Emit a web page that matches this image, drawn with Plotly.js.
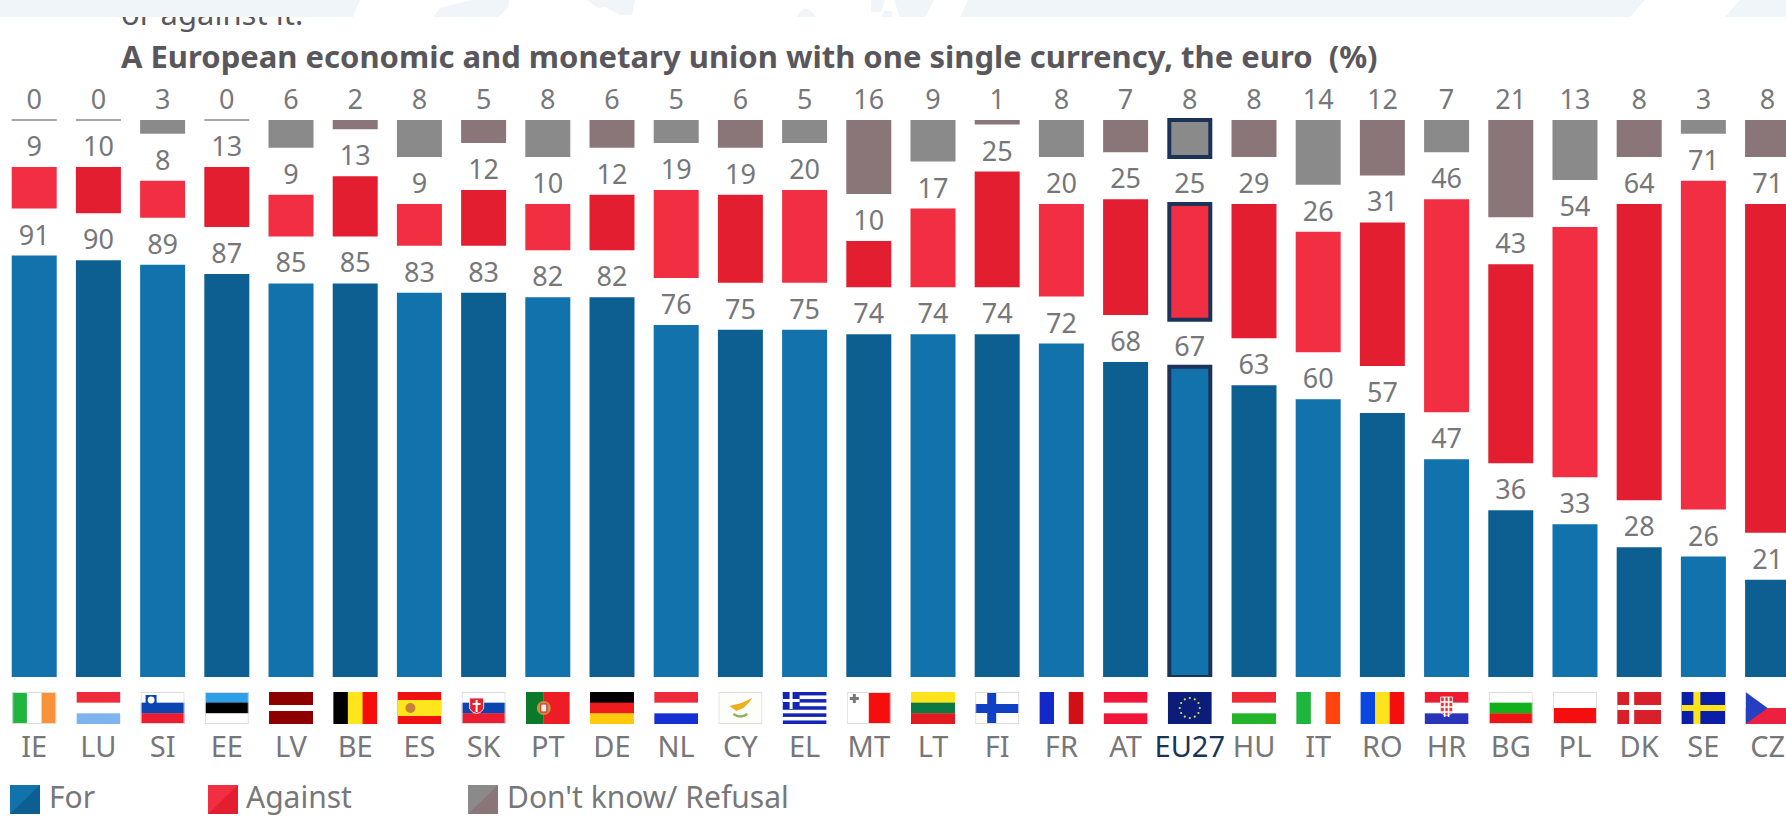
<!DOCTYPE html>
<html><head><meta charset="utf-8">
<script src="https://cdn.plot.ly/plotly-3.0.1.min.js"></script>
<style>html,body{margin:0;padding:0;background:#fff;overflow:hidden}
#band{position:absolute;left:0;top:0;width:1786px;height:17px;z-index:5}
#chart{position:absolute;left:0;top:0}</style></head>
<body>
<div id="chart"></div>
<svg id="band" viewBox="0 0 1786 17"><rect width="1786" height="17" fill="#fff"/>
<path d="M0 0H360L353 17H0zM471 0H509L508 8L498 17H433L440 8zM587 0H635L632 15H620L605 7L598 8zM797 17Q805 0 816 17zM871 0H885L881 12H871zM881 17L884 11H892V17zM894 0H934L925 17H900zM968 0H1645L1630 17H960zM1740 0H1786V17H1725z" fill="#eff5f9"/></svg>
<script>
const countries = ["IE","LU","SI","EE","LV","BE","ES","SK","PT","DE","NL","CY","EL","MT","LT","FI","FR","AT","EU27","HU","IT","RO","HR","BG","PL","DK","SE","CZ"];
const forVals = [91,90,89,87,85,85,83,83,82,82,76,75,75,74,74,74,72,68,67,63,60,57,47,36,33,28,26,21];
const againstVals = [9,10,8,13,9,13,9,12,10,12,19,19,20,10,17,25,20,25,25,29,26,31,46,43,54,64,71,71];
const dkVals = [0,0,3,0,6,2,8,5,8,6,5,6,5,16,9,1,8,7,8,8,14,12,7,21,13,8,3,8];
const seriesNames = ["For","Against","Don't know/ Refusal"];
const titleText = "A European economic and monetary union with one single currency, the euro  (%)";

const GAP = 10.15;
const font = "'Noto Sans','Open Sans',sans-serif";
const labelColor = "#77777a";
const navy = "#1b3358";
const alt = (a,b) => countries.map((_,i)=> i%2===0 ? a : b);
const euIdx = countries.indexOf("EU27");
const widths = countries.map((_,i)=> i===euIdx ? 41/64.2 : 45/64.2);
const lineW = countries.map((_,i)=> i===euIdx ? 4 : 0);
const lineC = countries.map(()=> navy);

function barTrace(name, vals, base, colors, lw, lc){
  return {type:"bar", name, x:countries, y:vals, base, width:widths,
    marker:{color:colors, line:{width:lw, color:lc}},
    text:vals.map(String), textposition:"outside", cliponaxis:false,
    textfont:{family:font,size:27,color:labelColor}, constraintext:"none", hoverinfo:"name+y"};
}
const traces = [
  barTrace(seriesNames[0], forVals, forVals.map(()=>0), alt("#1272ac","#0d5f92"), lineW, lineC),
  barTrace(seriesNames[1], againstVals, forVals.map(v=>v+GAP), alt("#f22f42","#e31e30"), lineW, lineC),
  barTrace(seriesNames[2], dkVals, dkVals.map(v=>100+2*GAP-v), alt("#8a8a8a","#8a7679"),
     dkVals.map((v,i)=> v===0 ? 2 : lineW[i]), dkVals.map((v,i)=> v===0 ? "#a6a6a6" : lineC[i]))
];

function svgUri(w,h,body){return "data:image/svg+xml;utf8,"+encodeURIComponent(`<svg xmlns="http://www.w3.org/2000/svg" width="${w}" height="${h}" viewBox="0 0 ${w} ${h}" preserveAspectRatio="none">${body}</svg>`);}
const V=(...c)=>c.map((k,i)=>`<rect x="${i*44/c.length}" width="${44/c.length+.3}" height="32" fill="${k}"/>`).join("");
const H=(...c)=>c.map((k,i)=>`<rect y="${i*32/c.length}" width="44" height="${32/c.length+.3}" fill="${k}"/>`).join("");
const edge=`<rect x=".5" y=".5" width="43" height="31" fill="none" stroke="#ddd"/>`;
const flags = {
 IE:V("#1fb53f","#fff","#f7923a")+edge,
 LU:H("#ee2a3c","#fff","#7db4ee"),
 SI:H("#fff","#0a45b0","#ee1c30")+`<path d="M5 3h11v10q-5 6-11 0z" fill="#0a45b0"/><circle cx="10.5" cy="8" r="3.4" fill="#fff"/>`+edge,
 EE:H("#2f9fe8","#000","#fff")+edge,
 LV:`<rect width="44" height="32" fill="#8e0000"/><rect y="13" width="44" height="6" fill="#fff"/>`,
 BE:V("#000","#ffe61c","#f60d0d"),
 ES:`<rect width="44" height="32" fill="#f01010"/><rect y="8" width="44" height="16" fill="#ffe61c"/><circle cx="13" cy="16" r="5" fill="#c8803a"/>`,
 SK:H("#fff","#0a45b0","#ee1c30")+`<path d="M8 6h14v11q-7 9-14 0z" fill="#e8202a" stroke="#dfe6ff"/><path d="M15 8v12M11 12h8" stroke="#fff" stroke-width="2"/>`+edge,
 PT:`<rect width="18" height="32" fill="#0a7a2a"/><rect x="18" width="26" height="32" fill="#ee1c25"/><circle cx="18" cy="16" r="7" fill="#c6943a"/><rect x="15" y="12" width="6" height="8" fill="#eee" stroke="#c22"/>`,
 DE:H("#000","#ee1c1c","#ffc90e"),
 NL:H("#ee2a3c","#fff","#1430d0"),
 CY:`<rect width="44" height="32" fill="#fdfdfa"/><path d="M11 14l12-3 11-5-3 4-6 6-7 3z" fill="#f1ad1c"/><path d="M15 22q7 5 14 0" fill="none" stroke="#8cb45a" stroke-width="2.4"/>`+edge,
 EL:[0,1,2,3,4,5,6,7,8].map(i=>`<rect y="${i*32/9}" width="44" height="${32/9+.2}" fill="${i%2?'#fff':'#1424b4'}"/>`).join("")+`<rect width="17" height="17" fill="#1424b4"/><path d="M8.5 0v17M0 8.5h17" stroke="#fff" stroke-width="3"/>`,
 MT:`<rect width="22" height="32" fill="#fff"/><rect x="22" width="22" height="32" fill="#f60d0d"/><path d="M6 2h3v3h3v3h-3v3H6V8H3V5h3z" fill="#777"/>`+edge,
 LT:H("#fde21c","#0a7a42","#e2191f"),
 FI:`<rect width="44" height="32" fill="#fff"/><rect x="12" width="9" height="32" fill="#1240c4"/><rect y="12" width="44" height="9" fill="#1240c4"/>`+edge,
 FR:V("#1228c8","#fff","#d20f14"),
 AT:H("#f0163a","#fff","#f0163a"),
 EU27:`<rect width="44" height="32" fill="#0a1d78"/>`+[...Array(12).keys()].map(i=>`<circle cx="${22+10*Math.cos(i*Math.PI/6)}" cy="${16+10*Math.sin(i*Math.PI/6)}" r="1.1" fill="#e6d35a"/>`).join(""),
 HU:H("#ee2a35","#fff","#22b52a"),
 IT:V("#1fb53f","#fff","#ff4410"),
 RO:V("#0a46e0","#fde21c","#f60d0d"),
 HR:H("#ee1c30","#fff","#2a34b8")+`<path d="M16 5h12v15q-6 7-12 0z" fill="#e33" stroke="#ddd"/><path d="M20 5v20M24 5v20M16 10h12M16 15h12M16 20h12" stroke="#fff" stroke-width="1.6"/>`,
 BG:H("#fff","#12b01a","#ee1414")+edge,
 PL:`<rect width="44" height="16" fill="#fff"/><rect y="16" width="44" height="16" fill="#f60d0d"/>`+edge,
 DK:`<rect width="44" height="32" fill="#d7202a"/><rect x="12" width="5" height="32" fill="#fff"/><rect y="13" width="44" height="5" fill="#fff"/>`,
 SE:`<rect width="44" height="32" fill="#0a1ea8"/><rect x="12" width="7" height="32" fill="#fde21c"/><rect y="13" width="44" height="6" fill="#fde21c"/>`,
 CZ:H("#fff","#ee2040")+`<path d="M0 0L22 16L0 32z" fill="#2440c0"/>`
};
const swatch=(l,d)=>svgUri(30,29,`<rect width="30" height="29" fill="${l}"/><path d="M30 0V29H0z" fill="${d}"/>`);
const images = countries.map((c,i)=>({source:svgUri(44,32,flags[c]), xref:"x", yref:"paper", x:i, y:-(692-677)/602,
  sizex:44/64.2, sizey:32/602, xanchor:"center", yanchor:"top", sizing:"stretch", layer:"above"}));
const legendX=[10,208,468], legendTextX=[47,244,505];
const swatchCols=[["#1272ac","#0d5f92"],["#f22f42","#e31e30"],["#8a8a8a","#8a7679"]];
seriesNames.forEach((n,i)=>images.push({source:swatch(...swatchCols[i]), xref:"paper", yref:"paper", x:legendX[i]/1786, y:-(785-677)/602,
  sizex:30/1786, sizey:29/602, xanchor:"left", yanchor:"top", sizing:"stretch", layer:"above"}));

const annotations = [
 {text:"or against it.", x:119, y:13, size:31},
 {text:"<b>"+titleText+"</b>", x:119, y:56, size:31}
].map(a=>({text:a.text, xref:"paper", yref:"paper", x:a.x/1786, y:(677-a.y)/602, xanchor:"left", yanchor:"middle", showarrow:false,
   font:{family:font,size:a.size,color:"#59575b"}}));
seriesNames.forEach((n,i)=>annotations.push({text:n, xref:"paper", yref:"paper", x:legendTextX[i]/1786, y:(677-796)/602, xanchor:"left", yanchor:"middle", showarrow:false, font:{family:font,size:30,color:labelColor}}));

const layout = {
  width:1786, height:816, margin:{l:0,r:0,t:75,b:139,pad:0}, paper_bgcolor:"#fff", plot_bgcolor:"#fff",
  barmode:"overlay", showlegend:false,
  xaxis:{type:"category", categoryorder:"array", categoryarray:countries, range:[-0.533,27.287], showgrid:false, zeroline:false, showline:false, ticks:"",
    tickmode:"array", tickvals:countries, ticktext:countries.map(c=> c==="EU27" ? `<span style="color:${navy}">${c}</span>` : c),
    tickangle:0, ticklabelstandoff:50, tickfont:{family:font,size:29,color:labelColor}},
  yaxis:{range:[0,130], visible:false, fixedrange:true},
  images, annotations
};
Plotly.newPlot("chart", traces, layout, {displayModeBar:false, staticPlot:true});
</script></body></html>
